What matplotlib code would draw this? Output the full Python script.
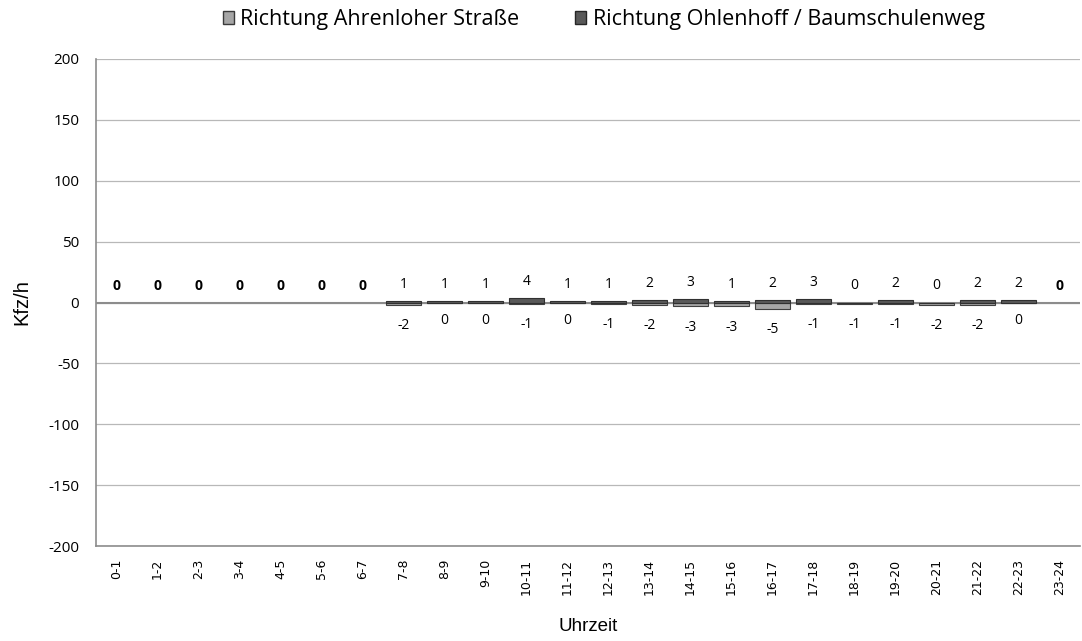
import matplotlib
matplotlib.use("Agg")
import matplotlib.pyplot as plt
from matplotlib.patches import Patch
import numpy as np

categories = ["0-1", "1-2", "2-3", "3-4", "4-5", "5-6", "6-7", "7-8", "8-9", "9-10",
              "10-11", "11-12", "12-13", "13-14", "14-15", "15-16", "16-17", "17-18",
              "18-19", "19-20", "20-21", "21-22", "22-23", "23-24"]
ahrenloher = [0, 0, 0, 0, 0, 0, 0, -2, 0, 0, -1, 0, -1, -2, -3, -3, -5, -1, -1, -1, -2, -2, 0, 0]
ohlenhoff = [0, 0, 0, 0, 0, 0, 0, 1, 1, 1, 4, 1, 1, 2, 3, 1, 2, 3, 0, 2, 0, 2, 2, 0]
series_names = ["Richtung Ahrenloher Straße", "Richtung Ohlenhoff / Baumschulenweg"]
yticks = [-200, -150, -100, -50, 0, 50, 100, 150, 200]

plt.rcParams['font.family'] = ['Open Sans', 'DejaVu Sans']

fig = plt.figure(figsize=(10.82, 6.41), dpi=100)
ax = fig.add_axes([0.0887, 0.148, 0.9093, 0.760])

x = np.arange(len(categories))
light = "#A6A6A6"
dark = "#595959"
active = [not (a == 0 and o == 0) for a, o in zip(ahrenloher, ohlenhoff)]
xa = x[active]
ax.bar(xa, np.array(ahrenloher)[active], width=0.85, color=light, edgecolor="#404040",
       linewidth=0.8, zorder=3)
ax.bar(xa, np.array(ohlenhoff)[active], width=0.85, color=dark, edgecolor="#303030",
       linewidth=0.8, zorder=3)

for i in range(len(categories)):
    a, o = ahrenloher[i], ohlenhoff[i]
    if not active[i]:
        ax.annotate("0", (x[i], 0), xytext=(0, 12), textcoords="offset points",
                    ha="center", va="center", fontsize=10, fontweight="bold", color="black")
        continue
    ax.annotate(str(o), (x[i], o), xytext=(0, 12), textcoords="offset points",
                ha="center", va="center", fontsize=10, color="black")
    ax.annotate(str(a), (x[i], a), xytext=(0, -15 if a < 0 else -13), textcoords="offset points",
                ha="center", va="center", fontsize=10, color="black")

ax.set_xlim(-0.5, len(categories) - 0.5)
ax.set_ylim(-200, 200)
ax.set_yticks(yticks)
ax.set_yticklabels([str(v) for v in yticks], fontsize=11)
ax.set_xticks(x)
ax.set_xticklabels(categories, rotation=90, fontsize=9, family="DejaVu Sans")
ax.tick_params(axis="both", length=0)
ax.tick_params(axis="x", pad=9)
ax.tick_params(axis="y", pad=12)

ax.grid(axis="y", color="#b8b8b8", linewidth=0.9, zorder=0)
ax.axhline(0, color="#8c8c8c", linewidth=1.5, zorder=2)
for side in ["top", "right"]:
    ax.spines[side].set_visible(False)
for side in ["left", "bottom"]:
    ax.spines[side].set_color("#8c8c8c")
    ax.spines[side].set_linewidth(1.2)

ax.set_ylabel("Kfz/h", fontsize=14.5, family="Liberation Sans", labelpad=12)
ax.set_xlabel("Uhrzeit", fontsize=13.5, family="Liberation Sans", labelpad=17)

handles = [Patch(facecolor=light, edgecolor="#3a3a3a", linewidth=1.0),
           Patch(facecolor=dark, edgecolor="#262626", linewidth=1.0)]
fig.legend(handles, series_names, loc="upper center", bbox_to_anchor=(0.558, 1.016), ncol=2,
           frameon=False, prop={"family": "Open Sans", "size": 15.5}, handlelength=0.5,
           handleheight=0.5, handletextpad=0.3, columnspacing=2.6)

fig.savefig("out.png", dpi=100)
